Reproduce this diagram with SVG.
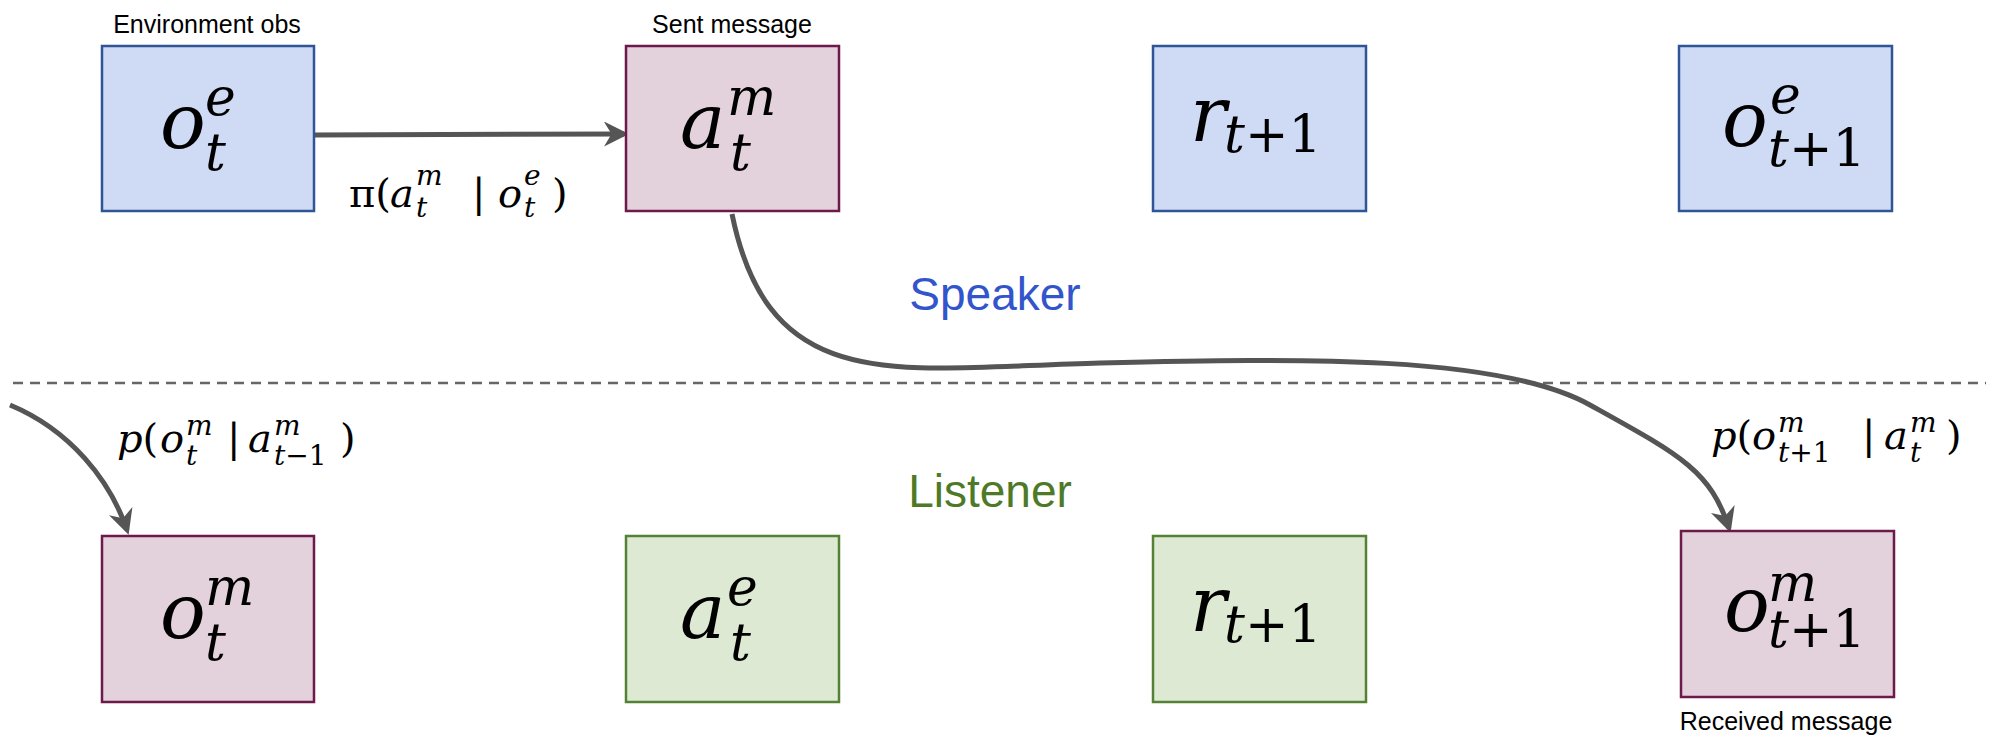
<svg xmlns="http://www.w3.org/2000/svg" width="1996" height="748" viewBox="0 0 1996 748">
<defs>
<style>
.blue{fill:#cfdaf5;stroke:#2f5597;stroke-width:2.5}
.pink{fill:#e3d1dc;stroke:#6b1a4a;stroke-width:2.5}
.green{fill:#dde9d3;stroke:#548235;stroke-width:2.5}
.m{font-family:"DejaVu Serif","Liberation Serif",serif;font-style:italic;fill:#000}
.b{font-size:76px}.s{font-size:52px}
.l{font-size:40px}.ls{font-size:28px}
.up{font-style:normal}
.lab{font-family:"Liberation Sans",Arial,sans-serif;font-size:25px;fill:#000;text-anchor:middle}
.con{fill:none;stroke:#555;stroke-width:5}
</style>
<marker id="ah" viewBox="0 0 10 10" refX="8" refY="5" markerWidth="5" markerHeight="5" orient="auto" markerUnits="strokeWidth">
<path d="M0,0 L10,5 L0,10 L3,5 Z" fill="#555"/>
</marker>
</defs>
<rect width="1996" height="748" fill="#fff"/>
<line x1="13" y1="383" x2="1986" y2="383" stroke="#666" stroke-width="2.5" stroke-dasharray="10,7"/>
<text x="995" y="310" font-family="Liberation Sans,Arial,sans-serif" font-size="46" fill="#3355cc" text-anchor="middle">Speaker</text>
<text x="990" y="507" font-family="Liberation Sans,Arial,sans-serif" font-size="46" fill="#4e7a27" text-anchor="middle">Listener</text>

<g id="connectors">
<path class="con" d="M314 135 L624 134" marker-end="url(#ah)"/>
<path class="con" d="M732 214 C770 400 900 368 1100 363 S1500 355 1590 405 S1710 470 1729 528" marker-end="url(#ah)"/>
<path class="con" d="M10 405 C70 430 110 480 127 530" marker-end="url(#ah)"/>
<g class="m">
<text class="l" x="349" y="207"><tspan class="up">π(</tspan><tspan x="390">a</tspan><tspan x="472" class="up">|</tspan><tspan x="498">o</tspan><tspan x="552" class="up">)</tspan></text>
<text class="ls" x="416" y="185">m</text><text class="ls" x="416" y="217">t</text>
<text class="ls" x="524" y="185">e</text><text class="ls" x="524" y="217">t</text>
<text class="l" x="117" y="452"><tspan>p</tspan><tspan class="up">(</tspan><tspan x="160">o</tspan><tspan x="227" class="up">|</tspan><tspan x="248">a</tspan><tspan x="340" class="up">)</tspan></text>
<text class="ls" x="186" y="435">m</text><text class="ls" x="186" y="465">t</text>
<text class="ls" x="274" y="435">m</text><text class="ls" x="274" y="465">t<tspan class="up">−1</tspan></text>
<text class="l" x="1711" y="449"><tspan>p</tspan><tspan class="up">(</tspan><tspan x="1752">o</tspan><tspan x="1862" class="up">|</tspan><tspan x="1884">a</tspan><tspan x="1946" class="up">)</tspan></text>
<text class="ls" x="1778" y="432">m</text><text class="ls" x="1778" y="462">t<tspan class="up">+1</tspan></text>
<text class="ls" x="1910" y="432">m</text><text class="ls" x="1910" y="462">t</text>
</g>
</g>

<g id="env-obs">
<rect class="blue" x="102" y="46" width="212" height="165"/>
<text class="lab" x="207" y="33">Environment obs</text>
<text class="m b" x="160" y="148">o</text><text class="m s" x="205" y="115">e</text><text class="m s" x="205" y="170">t</text>
</g>
<g id="sent-msg">
<rect class="pink" x="626" y="46" width="213" height="165"/>
<text class="lab" x="732" y="33">Sent message</text>
<text class="m b" x="680" y="148">a</text><text class="m s" x="727" y="115">m</text><text class="m s" x="730" y="170">t</text>
</g>
<g id="speaker-r">
<rect class="blue" x="1153" y="46" width="213" height="165"/>
<text class="m b" x="1190" y="141">r</text><text class="m s" x="1224" y="152">t<tspan class="up">+1</tspan></text>
</g>
<g id="speaker-o-next">
<rect class="blue" x="1679" y="46" width="213" height="165"/>
<text class="m b" x="1722" y="146">o</text><text class="m s" x="1770" y="113">e</text><text class="m s" x="1768" y="166">t<tspan class="up">+1</tspan></text>
</g>
<g id="listener-om">
<rect class="pink" x="102" y="536" width="212" height="166"/>
<text class="m b" x="160" y="638">o</text><text class="m s" x="205" y="605">m</text><text class="m s" x="205" y="660">t</text>
</g>
<g id="listener-ae">
<rect class="green" x="626" y="536" width="213" height="166"/>
<text class="m b" x="680" y="638">a</text><text class="m s" x="727" y="605">e</text><text class="m s" x="730" y="660">t</text>
</g>
<g id="listener-r">
<rect class="green" x="1153" y="536" width="213" height="166"/>
<text class="m b" x="1190" y="631">r</text><text class="m s" x="1224" y="642">t<tspan class="up">+1</tspan></text>
</g>
<g id="received-msg">
<rect class="pink" x="1681" y="531" width="213" height="166"/>
<text class="lab" x="1786" y="730">Received message</text>
<text class="m b" x="1724" y="631">o</text><text class="m s" x="1768" y="601">m</text><text class="m s" x="1768" y="647">t<tspan class="up">+1</tspan></text>
</g>
</svg>
